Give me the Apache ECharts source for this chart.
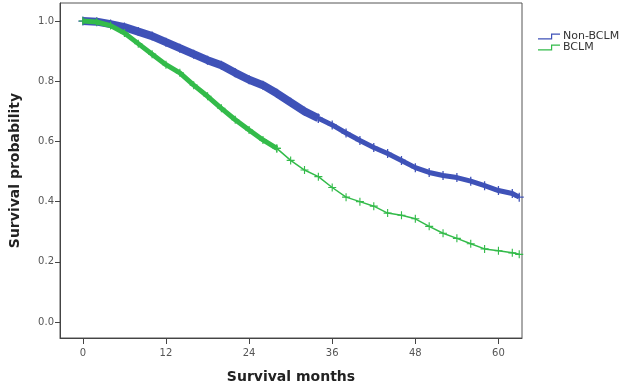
<!DOCTYPE html>
<html><head><meta charset="utf-8">
<script src="https://cdn.jsdelivr.net/npm/echarts@6/dist/echarts.min.js"></script>
<style>html,body{margin:0;padding:0;background:#fff}#c{width:630px;height:390px}</style>
</head><body><div id="c"></div>
<script>
var months = [0,2,4,6,8,10,12,14,16,18,20,22,24,26,28,30,32,34,36,38,40,42,44,46,48,50,52,54,56,58,60,62,63];
var nonBCLM = [1.0,0.998,0.99,0.98,0.965,0.95,0.93,0.91,0.89,0.87,0.853,0.828,0.805,0.787,0.76,0.73,0.70,0.677,0.655,0.628,0.603,0.58,0.56,0.537,0.513,0.497,0.487,0.48,0.468,0.453,0.437,0.427,0.415];
var bclm = [1.0,0.997,0.985,0.96,0.925,0.89,0.855,0.828,0.787,0.75,0.71,0.672,0.638,0.605,0.577,0.537,0.505,0.483,0.447,0.415,0.40,0.385,0.362,0.355,0.343,0.318,0.295,0.278,0.26,0.243,0.237,0.23,0.225];
var xTicks = [0,12,24,36,48,60];
var yTicks = [0,0.2,0.4,0.6,0.8,1.0];
var seriesNames = ['Non-BCLM','BCLM'];

var BLUE = '#3f52b8', GREEN = '#33bb4a';
var cross = 'path://M4.3,0 L5.7,0 L5.7,4.3 L10,4.3 L10,5.7 L5.7,5.7 L5.7,10 L4.3,10 L4.3,5.7 L0,5.7 L0,4.3 L4.3,4.3 Z';
var stepIcon = 'path://M0,4.8 L13,4.8 L13,0 L22,0 L22,1.2 L14.2,1.2 L14.2,6 L0,6 Z';
function pairs(vals, from, to){
  var out=[]; for(var i=from;i<=to;i++) out.push([months[i], vals[i]]); return out;
}
var split = 17;
var chart = echarts.init(document.getElementById('c'), null, {renderer:'canvas'});
chart.setOption({
  animation:false,
  grid:{left:57, top:3, right:108, bottom:52, show:true, borderColor:'#555', borderWidth:1},
  legend:{
    data:seriesNames, orient:'vertical', left:538, top:31, padding:0, itemWidth:22, itemHeight:6, itemGap:0,
    icon:stepIcon,
    textStyle:{fontSize:11, lineHeight:11, color:'#333', fontFamily:'DejaVu Sans', padding:[0,0,0,-2]}
  },
  xAxis:{type:'value', min:-3.3, max:63.4,
    axisLine:{show:true, onZero:false, lineStyle:{color:'#444'}},
    axisTick:{show:true, customValues:xTicks, length:6, lineStyle:{color:'#444'}},
    axisLabel:{customValues:xTicks, fontSize:10, color:'#555', margin:10, fontFamily:'DejaVu Sans'},
    splitLine:{show:false},
    name:'Survival months', nameLocation:'middle', nameGap:32,
    nameTextStyle:{fontSize:14, fontWeight:'bold', color:'#222', fontFamily:'DejaVu Sans'}
  },
  yAxis:{type:'value', min:-0.053, max:1.06,
    axisLine:{show:true, onZero:false, lineStyle:{color:'#444'}},
    axisTick:{show:true, customValues:yTicks, length:5, lineStyle:{color:'#444'}},
    axisLabel:{customValues:yTicks, fontSize:10, color:'#555', margin:6, fontFamily:'DejaVu Sans',
      formatter:function(v){return v.toFixed(1);}},
    splitLine:{show:false},
    name:'Survival probability', nameLocation:'middle', nameGap:38, nameRotate:90,
    nameTextStyle:{fontSize:14, fontWeight:'bold', color:'#222', fontFamily:'DejaVu Sans'}
  },
  series:[
    {name:seriesNames[0], type:'line', data:pairs(nonBCLM,0,split), lineStyle:{color:BLUE,width:8}, itemStyle:{color:BLUE},
      symbol:cross, symbolSize:9, showAllSymbol:true, z:2},
    {name:seriesNames[0], type:'line', data:pairs(nonBCLM,split,months.length-1), lineStyle:{color:BLUE,width:5}, itemStyle:{color:BLUE},
      symbol:cross, symbolSize:9, showAllSymbol:true, z:2},
    {name:seriesNames[1], type:'line', data:pairs(bclm,0,14), lineStyle:{color:GREEN,width:5}, itemStyle:{color:GREEN},
      symbol:cross, symbolSize:8, showAllSymbol:true, z:3},
    {name:seriesNames[1], type:'line', data:pairs(bclm,14,months.length-1), lineStyle:{color:GREEN,width:1.5}, itemStyle:{color:GREEN},
      symbol:cross, symbolSize:8, showAllSymbol:true, z:3}
  ]
});
</script></body></html>
